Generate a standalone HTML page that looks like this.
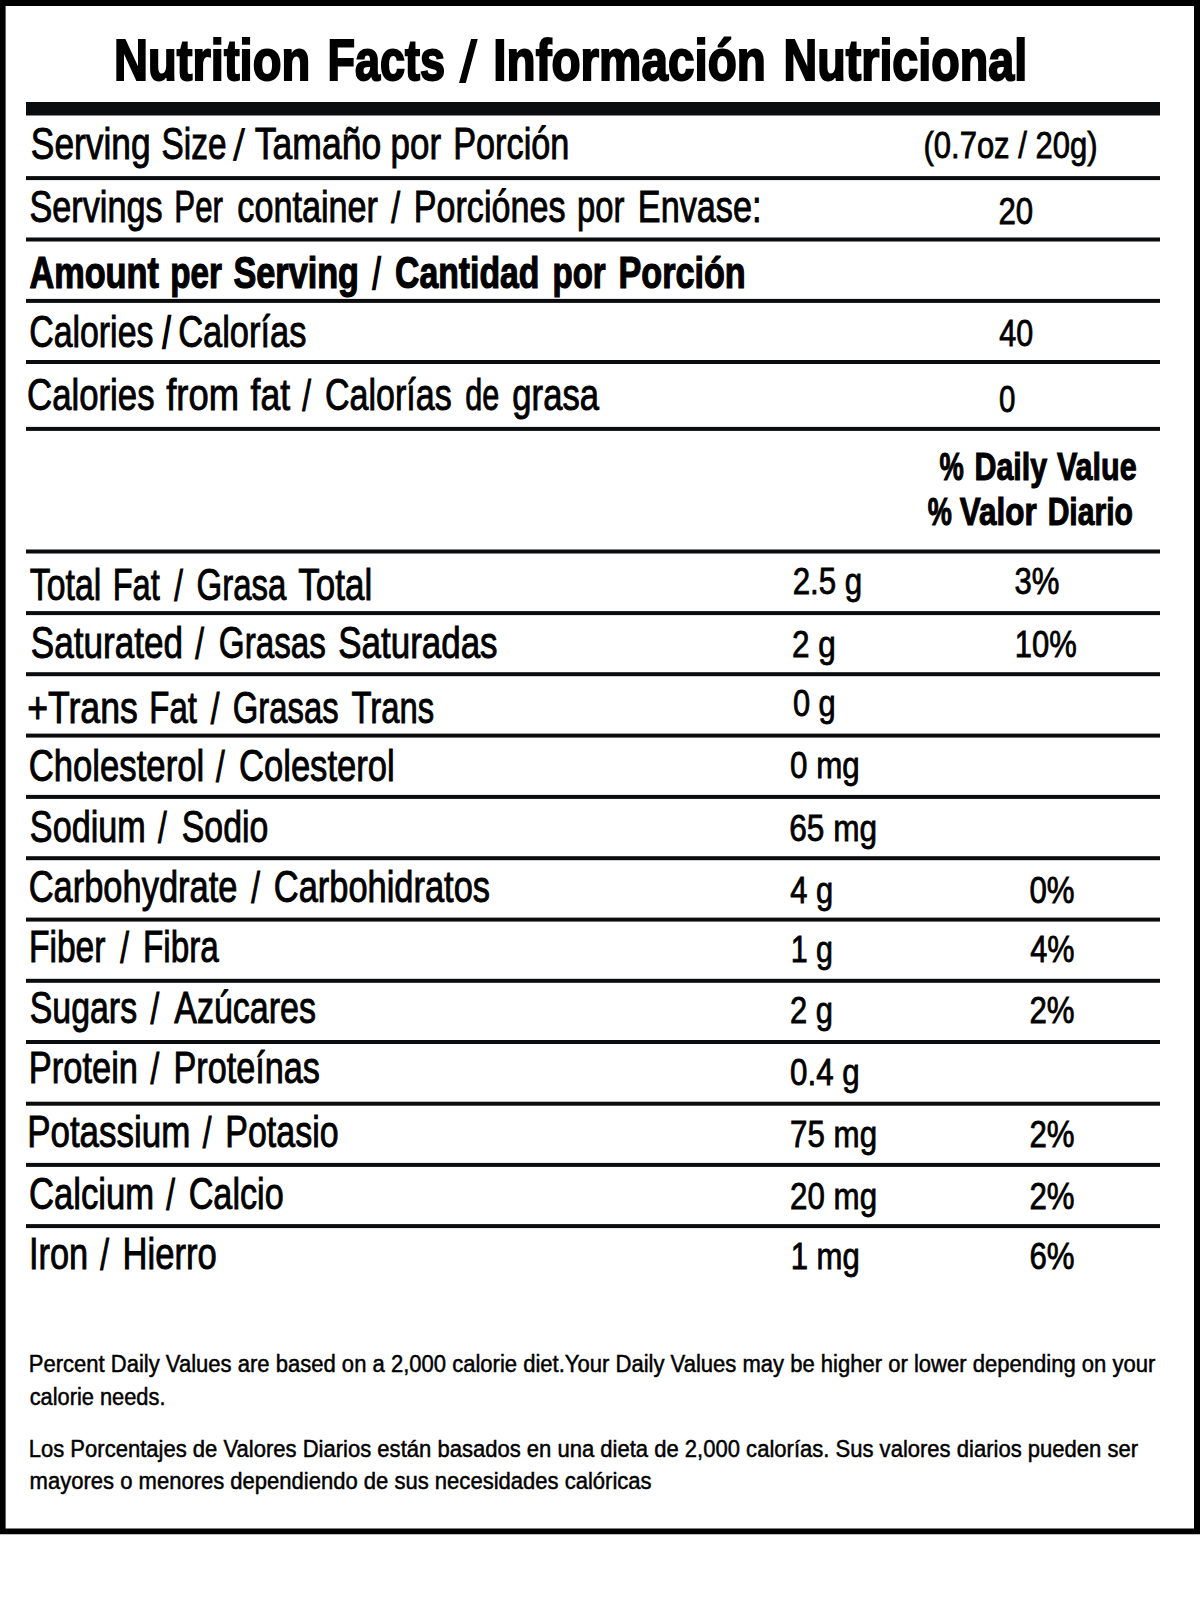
<!DOCTYPE html>
<html lang="en"><head><meta charset="utf-8"><title>Nutrition Facts / Información Nutricional</title>
<style>html,body{margin:0;padding:0;background:#fff}body{width:1200px;height:1597px;overflow:hidden}svg{display:block}text{font-family:"Liberation Sans",sans-serif;fill:#000}.b{font-weight:700}</style></head><body>
<svg width="1200" height="1597" viewBox="0 0 1200 1597">
<rect x="0" y="0" width="1200" height="1597" fill="#fff"/>
<path d="M0 0H1200V1534.25H0Z M5.6 5.9V1528.4H1194V5.9Z" fill="#000" fill-rule="evenodd"/>
<rect x="26" y="102" width="1134" height="13.5" fill="#0b0c0e"/>
<rect x="26" y="176.10" width="1134" height="4.00" fill="#0b0c0e"/>
<rect x="26" y="237.50" width="1134" height="4.00" fill="#0b0c0e"/>
<rect x="26" y="298.90" width="1134" height="4.00" fill="#0b0c0e"/>
<rect x="26" y="360.00" width="1134" height="4.00" fill="#0b0c0e"/>
<rect x="26" y="426.90" width="1134" height="4.00" fill="#0b0c0e"/>
<rect x="26" y="549.50" width="1134" height="4.00" fill="#0b0c0e"/>
<rect x="26" y="611.10" width="1134" height="4.00" fill="#0b0c0e"/>
<rect x="26" y="672.20" width="1134" height="4.00" fill="#0b0c0e"/>
<rect x="26" y="733.60" width="1134" height="4.00" fill="#0b0c0e"/>
<rect x="26" y="794.90" width="1134" height="4.00" fill="#0b0c0e"/>
<rect x="26" y="856.20" width="1134" height="4.00" fill="#0b0c0e"/>
<rect x="26" y="917.60" width="1134" height="4.00" fill="#0b0c0e"/>
<rect x="26" y="978.80" width="1134" height="4.00" fill="#0b0c0e"/>
<rect x="26" y="1040.00" width="1134" height="4.00" fill="#0b0c0e"/>
<rect x="26" y="1101.70" width="1134" height="4.00" fill="#0b0c0e"/>
<rect x="26" y="1162.90" width="1134" height="4.00" fill="#0b0c0e"/>
<rect x="26" y="1224.10" width="1134" height="4.00" fill="#0b0c0e"/>
<g font-size="56.5" class="b">
<text transform="translate(114.03 79.90) scale(0.8338 1)" stroke="#000" stroke-width="2.00">Nutrition</text>
<text transform="translate(327.41 79.90) scale(0.7970 1)" stroke="#000" stroke-width="2.00">Facts</text>
<text transform="matrix(0.7800 0 -0.1258 1 459.78 81.00)" stroke="#000" stroke-width="2.00">/</text>
<text transform="translate(493.31 79.90) scale(0.8430 1)" stroke="#000" stroke-width="2.00">Información</text>
<text transform="translate(783.55 79.90) scale(0.8255 1)" stroke="#000" stroke-width="2.00">Nutricional</text>
</g>
<g font-size="43.5">
<text transform="translate(30.81 158.54) scale(0.8126 1)" stroke="#000" stroke-width="0.91">Serving</text>
<text transform="translate(161.58 158.54) scale(0.7679 1)" stroke="#000" stroke-width="0.91">Size</text>
<text transform="matrix(0.8000 0 -0.0584 1 233.36 160.00)" stroke="#000" stroke-width="0.90">/</text>
<text transform="translate(254.77 158.54) scale(0.8170 1)" stroke="#000" stroke-width="0.91">Tamaño</text>
<text transform="translate(390.56 158.54) scale(0.8027 1)" stroke="#000" stroke-width="0.91">por</text>
<text transform="translate(453.20 158.54) scale(0.7877 1)" stroke="#000" stroke-width="0.91">Porción</text>
</g>
<g font-size="43.5">
<text transform="translate(29.57 221.64) scale(0.7856 1)" stroke="#000" stroke-width="0.91">Servings</text>
<text transform="translate(174.37 221.64) scale(0.7187 1)" stroke="#000" stroke-width="0.91">Per</text>
<text transform="translate(237.37 221.64) scale(0.7860 1)" stroke="#000" stroke-width="0.91">container</text>
<text transform="matrix(0.7321 0 0.0000 1 391.37 223.00)" stroke="#000" stroke-width="1.00">/</text>
<text transform="translate(413.81 221.64) scale(0.7839 1)" stroke="#000" stroke-width="0.91">Porciónes</text>
<text transform="translate(577.04 221.64) scale(0.7537 1)" stroke="#000" stroke-width="0.91">por</text>
<text transform="translate(637.80 221.64) scale(0.7875 1)" stroke="#000" stroke-width="0.91">Envase:</text>
</g>
<g font-size="43.5" class="b">
<text transform="translate(29.39 287.69) scale(0.7889 1)" stroke="#000" stroke-width="1.21">Amount</text>
<text transform="translate(170.24 287.69) scale(0.7629 1)" stroke="#000" stroke-width="1.21">per</text>
<text transform="translate(233.49 287.69) scale(0.7869 1)" stroke="#000" stroke-width="1.21">Serving</text>
<text transform="matrix(0.6364 0 0.0000 1 372.76 289.00)" stroke="#000" stroke-width="2.40" font-weight="400" style="font-weight:400">/</text>
<text transform="translate(395.09 287.69) scale(0.7761 1)" stroke="#000" stroke-width="1.21">Cantidad</text>
<text transform="translate(552.44 287.69) scale(0.7598 1)" stroke="#000" stroke-width="1.21">por</text>
<text transform="translate(618.51 287.69) scale(0.7857 1)" stroke="#000" stroke-width="1.21">Porción</text>
</g>
<g font-size="43.5">
<text transform="translate(29.20 347.14) scale(0.7786 1)" stroke="#000" stroke-width="0.91">Calories</text>
<text transform="matrix(0.6364 0 0.0000 1 162.76 348.00)" stroke="#000" stroke-width="2.40">/</text>
<text transform="translate(178.18 347.14) scale(0.7918 1)" stroke="#000" stroke-width="0.91">Calorías</text>
</g>
<g font-size="43.5">
<text transform="translate(27.07 410.04) scale(0.7989 1)" stroke="#000" stroke-width="0.91">Calories</text>
<text transform="translate(166.18 410.04) scale(0.8369 1)" stroke="#000" stroke-width="0.91">from</text>
<text transform="translate(250.57 410.04) scale(0.8173 1)" stroke="#000" stroke-width="0.91">fat</text>
<text transform="matrix(0.7214 0 0.0000 1 302.36 411.00)" stroke="#000" stroke-width="1.00">/</text>
<text transform="translate(324.99 410.04) scale(0.7824 1)" stroke="#000" stroke-width="0.91">Calorías</text>
<text transform="translate(465.32 410.04) scale(0.7027 1)" stroke="#000" stroke-width="0.91">de</text>
<text transform="translate(512.37 410.04) scale(0.7961 1)" stroke="#000" stroke-width="0.91">grasa</text>
</g>
<g font-size="43.5">
<text transform="translate(29.85 600.24) scale(0.7766 1)" stroke="#000" stroke-width="0.91">Total</text>
<text transform="translate(112.70 600.24) scale(0.7483 1)" stroke="#000" stroke-width="0.91">Fat</text>
<text transform="matrix(0.7143 0 0.0000 1 174.36 601.00)" stroke="#000" stroke-width="1.00">/</text>
<text transform="translate(196.53 600.24) scale(0.7582 1)" stroke="#000" stroke-width="0.91">Grasa</text>
<text transform="translate(298.37 600.24) scale(0.8044 1)" stroke="#000" stroke-width="0.91">Total</text>
</g>
<g font-size="43.5">
<text transform="translate(30.76 658.44) scale(0.8071 1)" stroke="#000" stroke-width="0.91">Saturated</text>
<text transform="matrix(0.7214 0 0.0000 1 195.36 659.00)" stroke="#000" stroke-width="1.00">/</text>
<text transform="translate(218.82 658.44) scale(0.7639 1)" stroke="#000" stroke-width="0.91">Grasas</text>
<text transform="translate(338.31 658.44) scale(0.8035 1)" stroke="#000" stroke-width="0.91">Saturadas</text>
</g>
<g font-size="43.5">
<text transform="translate(27.23 723.29) scale(0.8194 1)" stroke="#000" stroke-width="0.91">+Trans</text>
<text transform="translate(149.27 723.29) scale(0.7581 1)" stroke="#000" stroke-width="0.91">Fat</text>
<text transform="matrix(0.7214 0 0.0000 1 210.66 724.00)" stroke="#000" stroke-width="1.00">/</text>
<text transform="translate(232.83 723.29) scale(0.7545 1)" stroke="#000" stroke-width="0.91">Grasas</text>
<text transform="translate(351.54 723.29) scale(0.7545 1)" stroke="#000" stroke-width="0.91">Trans</text>
</g>
<g font-size="43.5">
<text transform="translate(28.67 781.29) scale(0.7981 1)" stroke="#000" stroke-width="0.91">Cholesterol</text>
<text transform="matrix(0.7214 0 0.0000 1 216.06 782.00)" stroke="#000" stroke-width="1.00">/</text>
<text transform="translate(238.97 781.29) scale(0.7955 1)" stroke="#000" stroke-width="0.91">Colesterol</text>
</g>
<g font-size="43.5">
<text transform="translate(29.87 842.14) scale(0.7860 1)" stroke="#000" stroke-width="0.91">Sodium</text>
<text transform="matrix(0.7214 0 0.0000 1 157.96 843.00)" stroke="#000" stroke-width="1.00">/</text>
<text transform="translate(181.78 842.14) scale(0.7784 1)" stroke="#000" stroke-width="0.91">Sodio</text>
</g>
<g font-size="43.5">
<text transform="translate(28.68 902.04) scale(0.7922 1)" stroke="#000" stroke-width="0.91">Carbohydrate</text>
<text transform="matrix(0.7214 0 0.0000 1 251.36 903.00)" stroke="#000" stroke-width="1.00">/</text>
<text transform="translate(273.78 902.04) scale(0.7918 1)" stroke="#000" stroke-width="0.91">Carbohidratos</text>
</g>
<g font-size="43.5">
<text transform="translate(28.93 962.34) scale(0.7728 1)" stroke="#000" stroke-width="0.91">Fiber</text>
<text transform="matrix(0.7214 0 0.0000 1 120.16 963.00)" stroke="#000" stroke-width="1.00">/</text>
<text transform="translate(143.05 962.34) scale(0.7646 1)" stroke="#000" stroke-width="0.91">Fibra</text>
</g>
<g font-size="43.5">
<text transform="translate(29.78 1022.74) scale(0.7789 1)" stroke="#000" stroke-width="0.91">Sugars</text>
<text transform="matrix(0.7214 0 0.0000 1 150.56 1024.00)" stroke="#000" stroke-width="1.00">/</text>
<text transform="translate(174.26 1022.74) scale(0.7813 1)" stroke="#000" stroke-width="0.91">Azúcares</text>
</g>
<g font-size="43.5">
<text transform="translate(28.78 1083.14) scale(0.7922 1)" stroke="#000" stroke-width="0.91">Protein</text>
<text transform="matrix(0.7214 0 0.0000 1 150.56 1084.00)" stroke="#000" stroke-width="1.00">/</text>
<text transform="translate(173.50 1083.14) scale(0.7870 1)" stroke="#000" stroke-width="0.91">Proteínas</text>
</g>
<g font-size="43.5">
<text transform="translate(27.16 1146.94) scale(0.8035 1)" stroke="#000" stroke-width="0.91">Potassium</text>
<text transform="matrix(0.7214 0 0.0000 1 202.86 1148.00)" stroke="#000" stroke-width="1.00">/</text>
<text transform="translate(225.31 1146.94) scale(0.7806 1)" stroke="#000" stroke-width="0.91">Potasio</text>
</g>
<g font-size="43.5">
<text transform="translate(28.97 1209.34) scale(0.7965 1)" stroke="#000" stroke-width="0.91">Calcium</text>
<text transform="matrix(0.7214 0 0.0000 1 166.16 1210.00)" stroke="#000" stroke-width="1.00">/</text>
<text transform="translate(188.69 1209.34) scale(0.7859 1)" stroke="#000" stroke-width="0.91">Calcio</text>
</g>
<g font-size="43.5">
<text transform="translate(29.00 1269.14) scale(0.7894 1)" stroke="#000" stroke-width="0.91">Iron</text>
<text transform="matrix(0.7214 0 0.0000 1 100.16 1270.00)" stroke="#000" stroke-width="1.00">/</text>
<text transform="translate(122.58 1269.14) scale(0.7955 1)" stroke="#000" stroke-width="0.91">Hierro</text>
</g>
<g font-size="37">
<text transform="translate(923.46 158.30) scale(0.8382 1)" stroke="#000" stroke-width="0.80">(0.7oz / 20g)</text>
</g>
<g font-size="37">
<text transform="translate(998.39 223.60) scale(0.8445 1)" stroke="#000" stroke-width="0.80">20</text>
</g>
<g font-size="37">
<text transform="translate(999.23 345.50) scale(0.8241 1)" stroke="#000" stroke-width="0.80">40</text>
</g>
<g font-size="37">
<text transform="translate(999.12 412.00) scale(0.7980 1)" stroke="#000" stroke-width="0.80">0</text>
</g>
<g font-size="38" class="b">
<text transform="translate(939.58 479.72) scale(0.7193 1)" stroke="#000" stroke-width="1.06">%</text>
<text transform="translate(974.42 479.72) scale(0.8011 1)" stroke="#000" stroke-width="1.06">Daily</text>
<text transform="translate(1056.93 479.72) scale(0.8033 1)" stroke="#000" stroke-width="1.06">Value</text>
</g>
<g font-size="38" class="b">
<text transform="translate(927.68 525.17) scale(0.7134 1)" stroke="#000" stroke-width="1.06">%</text>
<text transform="translate(959.74 525.17) scale(0.8279 1)" stroke="#000" stroke-width="1.06">Valor</text>
<text transform="translate(1047.64 525.17) scale(0.7921 1)" stroke="#000" stroke-width="1.06">Diario</text>
</g>
<g font-size="37">
<text transform="translate(792.69 593.90) scale(0.8452 1)" stroke="#000" stroke-width="0.80">2.5 g</text>
<text transform="translate(1014.50 593.90) scale(0.8401 1)" stroke="#000" stroke-width="0.80">3%</text>
</g>
<g font-size="37">
<text transform="translate(791.99 656.70) scale(0.8518 1)" stroke="#000" stroke-width="0.80">2 g</text>
<text transform="translate(1014.66 656.70) scale(0.8380 1)" stroke="#000" stroke-width="0.80">10%</text>
</g>
<g font-size="37">
<text transform="translate(792.90 716.30) scale(0.8337 1)" stroke="#000" stroke-width="0.80">0 g</text>
</g>
<g font-size="37">
<text transform="translate(790.09 778.20) scale(0.8474 1)" stroke="#000" stroke-width="0.80">0 mg</text>
</g>
<g font-size="37">
<text transform="translate(789.29 841.40) scale(0.8540 1)" stroke="#000" stroke-width="0.80">65 mg</text>
</g>
<g font-size="37">
<text transform="translate(790.13 902.80) scale(0.8350 1)" stroke="#000" stroke-width="0.80">4 g</text>
<text transform="translate(1029.39 902.80) scale(0.8439 1)" stroke="#000" stroke-width="0.80">0%</text>
</g>
<g font-size="37">
<text transform="translate(790.68 961.65) scale(0.8241 1)" stroke="#000" stroke-width="0.80">1 g</text>
<text transform="translate(1030.23 961.65) scale(0.8281 1)" stroke="#000" stroke-width="0.80">4%</text>
</g>
<g font-size="37">
<text transform="translate(790.10 1022.70) scale(0.8357 1)" stroke="#000" stroke-width="0.80">2 g</text>
<text transform="translate(1029.39 1022.70) scale(0.8439 1)" stroke="#000" stroke-width="0.80">2%</text>
</g>
<g font-size="37">
<text transform="translate(790.09 1085.40) scale(0.8470 1)" stroke="#000" stroke-width="0.80">0.4 g</text>
</g>
<g font-size="37">
<text transform="translate(790.09 1147.30) scale(0.8461 1)" stroke="#000" stroke-width="0.80">75 mg</text>
<text transform="translate(1029.39 1147.30) scale(0.8439 1)" stroke="#000" stroke-width="0.80">2%</text>
</g>
<g font-size="37">
<text transform="translate(790.09 1209.20) scale(0.8461 1)" stroke="#000" stroke-width="0.80">20 mg</text>
<text transform="translate(1029.39 1209.20) scale(0.8439 1)" stroke="#000" stroke-width="0.80">2%</text>
</g>
<g font-size="37">
<text transform="translate(790.66 1269.10) scale(0.8405 1)" stroke="#000" stroke-width="0.80">1 mg</text>
<text transform="translate(1029.39 1269.10) scale(0.8439 1)" stroke="#000" stroke-width="0.80">6%</text>
</g>
<g font-size="24.3">
<text transform="translate(28.71 1372.25) scale(0.9074 1)" stroke="#000" stroke-width="0.50">Percent Daily Values are based on a 2,000 calorie diet.Your Daily Values may be higher or lower depending on your</text>
</g>
<g font-size="24.3">
<text transform="translate(29.63 1405.05) scale(0.8985 1)" stroke="#000" stroke-width="0.50">calorie needs.</text>
</g>
<g font-size="24.3">
<text transform="translate(28.71 1456.75) scale(0.9073 1)" stroke="#000" stroke-width="0.50">Los Porcentajes de Valores Diarios están basados en una dieta de 2,000 calorías. Sus valores diarios pueden ser</text>
</g>
<g font-size="24.3">
<text transform="translate(29.62 1489.25) scale(0.9065 1)" stroke="#000" stroke-width="0.50">mayores o menores dependiendo de sus necesidades calóricas</text>
</g>
</svg></body></html>
